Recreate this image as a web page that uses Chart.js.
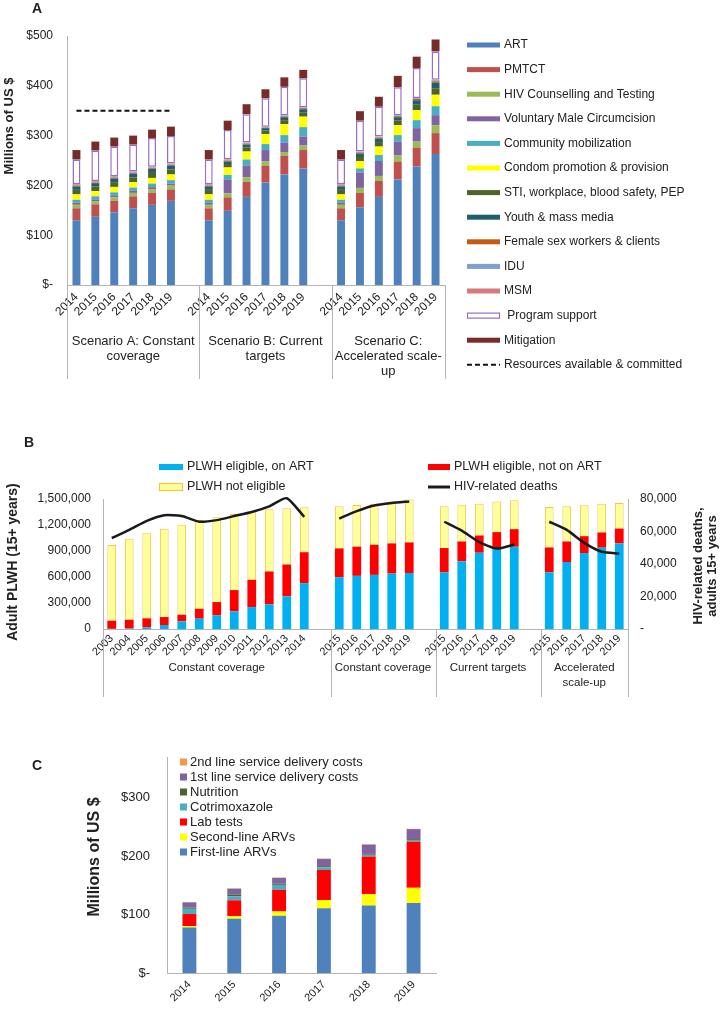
<!DOCTYPE html>
<html>
<head>
<meta charset="utf-8">
<script src="https://cdn.jsdelivr.net/npm/chart.js@4.4.1/dist/chart.umd.min.js"></script>
<style>
  html, body { margin: 0; padding: 0; background: #fff; }
  #page { position: relative; width: 722px; height: 1009px; overflow: hidden; }
  canvas { position: absolute; left: 0; }
</style>
</head>
<body>
<div id="page">
  <canvas id="chartA" width="722" height="395" style="top:0"></canvas>
  <canvas id="chartB" width="722" height="300" style="top:400px"></canvas>
  <canvas id="chartC" width="722" height="309" style="top:700px"></canvas>
</div>
<script>
const FONT = "'Liberation Sans', Arial, sans-serif";
const AXIS = '#b3b3b3';
Chart.defaults.font.family = FONT;
Chart.defaults.color = '#222';

// ---- panel A: resource needs by scenario (millions US$) ----
const yearsA = ['2014', '2015', '2016', '2017', '2018', '2019'];
const labelsA = [...yearsA, '', ...yearsA, '', ...yearsA];
const scenariosA = [['Scenario A: Constant', 'coverage'], ['Scenario B: Current', 'targets'], ['Scenario C:', 'Accelerated scale-', 'up']];

const art =         [130, 137, 146, 154, 161, 169, null, 130, 149, 177, 206, 222, 234, null, 130, 156, 177, 212, 238, 263];
const pmtct =       [24, 25, 23, 24, 24, 23, null, 24, 27, 30, 33, 37, 37, null, 24, 29, 32, 36, 38, 42];
const hct =         [7, 6.5, 7, 7, 7.5, 7.5, null, 7, 8, 9, 9, 8, 9, null, 7, 10, 10, 12, 12, 16];
const vmmc =        [4, 3.5, 4, 4, 4, 4, null, 4, 27, 24, 23, 19, 18, null, 4, 31, 30, 28, 27, 20];
const community =   [6, 6, 6, 6.5, 7, 7, null, 6, 10, 12, 12, 15, 19, null, 6, 8, 12, 13, 16, 18];
const condoms =     [11, 10.5, 11, 11, 11.5, 11.5, null, 11, 15, 16, 20, 22, 21, null, 11, 15, 17, 20, 20, 23];
const sti =         [9, 9, 9.5, 9.5, 10, 10, null, 9, 7, 8, 7, 8, 8, null, 9, 8, 9, 9, 11, 13];
const youth =       [7, 7, 7.5, 7.5, 8, 7.5, null, 7, 5, 6, 5, 6, 7, null, 7, 7, 7, 7, 9, 11];
const fsw =         [1.5, 1.5, 1.5, 1.5, 1.5, 1.5, null, 1.5, 1.5, 1.5, 1, 1.5, 2, null, 1.5, 2, 2, 2, 2.5, 3];
const idu =         [1.5, 1.5, 1.5, 1.5, 1.5, 1.5, null, 1.5, 1.5, 1.5, 1, 1.5, 1, null, 1.5, 1.5, 1.5, 1.5, 1.5, 2];
const msm =         [1.5, 1.5, 1.5, 1.5, 1.5, 1.5, null, 1.5, 1, 1, 1, 1, 1, null, 1.5, 0.5, 0.5, 0.5, 0.5, 1];
const progSupport = [49.5, 61, 59.5, 54, 57.5, 55, null, 49.5, 59, 57, 57, 57, 58, null, 49.5, 62, 60, 56, 60, 57];
const mitigation =  [19, 18, 18, 18, 17, 19, null, 19, 19, 20, 18, 19, 17, null, 19, 19, 20, 23, 23, 24];
const resources =   [350, 350, 350, 350, 350, 350, null, null, null, null, null, null, null, null, null, null, null, null, null, null];

// ---- panel B: adults living with HIV (thousands) and deaths (thousands) ----
const yearsHist = ['2003', '2004', '2005', '2006', '2007', '2008', '2009', '2010', '2011', '2012', '2013', '2014'];
const yearsProj = ['2015', '2016', '2017', '2018', '2019'];
const labelsB = [...yearsHist, '', ...yearsProj, '', ...yearsProj, '', ...yearsProj];
const groupsB = [['Constant coverage'], ['Constant coverage'], ['Current targets'], ['Accelerated', 'scale-up']];

const onArtK =       [2, 5, 20, 46, 88, 119, 157, 203, 253, 284, 376, 529, null, 598, 613, 624, 640, 646, null, 654, 781, 880, 930, 949, null, 654, 773, 876, 938, 987];
const notOnArtK =    [94, 102, 103, 92, 77, 115, 154, 246, 315, 380, 368, 357, null, 332, 337, 348, 348, 353, null, 280, 229, 199, 188, 203, null, 287, 237, 195, 176, 172];
const notEligibleK = [874, 933, 982, 1020, 1039, 1024, 978, 878, 790, 717, 648, 518, null, 485, 482, 474, 482, 494, null, 481, 425, 367, 352, 333, null, 468, 406, 357, 332, 295];
const deathsK =      [56, 61, 66.5, 70, 69.5, 66, 67, 69.5, 72, 75.5, 80.5, 69, null, 68, 72.5, 76, 77.5, 78.5, null, 66, 60.5, 53.5, 49.5, 52, null, 66, 61, 53, 47.5, 46.5];

// ---- panel C: ART cost components (millions US$) ----
const yearsC = ['2014', '2015', '2016', '2017', '2018', '2019'];
const firstLineArv =  [78, 93, 98, 111, 115.5, 120];
const secondLineArv = [2.5, 4.5, 7.5, 14, 19.5, 26];
const labTests =      [20.5, 27, 37, 51.5, 64.5, 79];
const cotrimoxazole = [9, 7, 8.5, 4.5, 3, 3];
const nutrition =     [2, 3, 2, 2, 1.5, 1.5];
const firstLineSvc =  [9, 10, 10, 12.5, 16, 17];
const secondLineSvc = [0.5, 0.5, 0.5, 0.5, 0.5, 0.5];

const thousands = arr => arr.map(v => v == null ? null : v * 1000);
const commas = v => String(v).replace(/\B(?=(\d{3})+(?!\d))/g, ',');

function drawText(ctx, t) {
  ctx.save();
  ctx.translate(t.x, t.y);
  if (t.rot) ctx.rotate(t.rot * Math.PI / 180);
  ctx.font = t.font;
  ctx.fillStyle = t.color || '#222';
  ctx.textAlign = t.align || 'center';
  ctx.textBaseline = 'middle';
  const lines = [].concat(t.text);
  const lh = t.lh || 14;
  lines.forEach((s, i) => ctx.fillText(s, 0, (i - (lines.length - 1) / 2) * lh));
  ctx.restore();
}

function drawGroups(chart, g) {
  const ctx = chart.ctx;
  const x = chart.scales.x;
  const slot = x.getPixelForValue(1) - x.getPixelForValue(0);
  const edge = i => x.getPixelForValue(0) - slot / 2 + i * slot;
  ctx.save();
  ctx.strokeStyle = AXIS;
  ctx.lineWidth = 1;
  g.bounds.forEach(b => {
    const px = Math.round(edge(b)) + 0.5;
    ctx.beginPath();
    ctx.moveTo(px, chart.chartArea.bottom);
    ctx.lineTo(px, g.bottom);
    ctx.stroke();
  });
  ctx.font = g.font;
  ctx.fillStyle = '#222';
  ctx.textAlign = 'center';
  ctx.textBaseline = 'middle';
  g.labels.forEach((lines, i) => {
    const cx = (edge(g.bounds[i]) + edge(g.bounds[i + 1])) / 2;
    lines.forEach((s, j) => ctx.fillText(s, cx, g.top + j * g.lh));
  });
  ctx.restore();
}

function drawLegend(chart, L) {
  const ctx = chart.ctx;
  ctx.save();
  ctx.font = L.font;
  ctx.textBaseline = 'middle';
  ctx.textAlign = 'left';
  L.items.forEach(it => {
    const ds = chart.data.datasets[it.ds];
    const w = it.w || L.boxW;
    const h = it.h || L.boxH;
    if (ds.type === 'line') {
      ctx.save();
      ctx.strokeStyle = ds.borderColor;
      ctx.lineWidth = L.lineW || ds.borderWidth;
      ctx.setLineDash(ds.borderDash || []);
      ctx.beginPath();
      ctx.moveTo(it.x, it.y);
      ctx.lineTo(it.x + w, it.y);
      ctx.stroke();
      ctx.restore();
    } else {
      ctx.fillStyle = ds.backgroundColor;
      ctx.fillRect(it.x, it.y - h / 2, w, h);
      if (ds.legendBorder) {
        ctx.strokeStyle = ds.borderColor;
        ctx.lineWidth = 1.2;
        ctx.strokeRect(it.x + 0.5, it.y - h / 2 + 0.5, w - 1, h - 1);
      }
    }
    ctx.fillStyle = '#222';
    ctx.fillText((it.prefix || '') + ds.label, it.x + w + (L.gap || 4), it.y);
  });
  ctx.restore();
}

const decor = {
  id: 'decor',
  afterDraw(chart, args, opts) {
    if (opts.groups) drawGroups(chart, opts.groups);
    if (opts.legend) drawLegend(chart, opts.legend);
    (opts.texts || []).forEach(t => drawText(chart.ctx, t));
  }
};
Chart.register(decor);

const noGrid = { display: false, drawTicks: false };

// ================= A =================
function barA(label, data, color, extra) {
  return Object.assign({
    type: 'bar', label, data, backgroundColor: color, borderWidth: 0,
    stack: 's', order: 1, categoryPercentage: 1, barPercentage: 0.42
  }, extra || {});
}
const datasetsA = [
  barA('ART', art, '#4f81bd'),
  barA('PMTCT', pmtct, '#c0504d'),
  barA('HIV Counselling and Testing', hct, '#9bbb59'),
  barA('Voluntary Male Circumcision', vmmc, '#8064a2'),
  barA('Community mobilization', community, '#4bacc6'),
  barA('Condom promotion & provision', condoms, '#ffff00'),
  barA('STI, workplace, blood safety, PEP', sti, '#4f6228'),
  barA('Youth & mass media', youth, '#215f6e'),
  barA('Female sex workers & clients', fsw, '#c55a11'),
  barA('IDU', idu, '#7f9fd0'),
  barA('MSM', msm, '#d77a7a'),
  barA('Program support', progSupport, '#ffffff', { borderColor: '#9a6cc8', borderWidth: 1.5, borderSkipped: false, legendBorder: true }),
  barA('Mitigation', mitigation, '#772c2a'),
  { type: 'line', label: 'Resources available & committed', data: resources, stack: 'res', order: 0,
    borderColor: '#111', borderWidth: 2, borderDash: [5, 3], pointRadius: 0, fill: false }
];

new Chart(document.getElementById('chartA'), {
  data: { labels: labelsA, datasets: datasetsA },
  options: {
    responsive: false, animation: false,
    layout: { padding: { top: 36, right: 277, left: 0, bottom: 0 } },
    plugins: {
      legend: { display: false }, tooltip: { enabled: false },
      decor: {
        texts: [
          { text: 'A', x: 37, y: 9, font: 'bold 14px ' + FONT },
          { text: 'Millions of US $', x: 9, y: 126, rot: -90, font: 'bold 13px ' + FONT }
        ],
        groups: { bounds: [0, 7, 14, 20], labels: scenariosA, top: 341, lh: 15, bottom: 379, font: '13px ' + FONT },
        legend: {
          font: '12px ' + FONT, boxW: 33, boxH: 5, gap: 4, lineW: 2,
          items: datasetsA.map((d, i) => ({ ds: i, x: 467, y: 45 + i * 24.6, h: i === 11 ? 6 : 5, prefix: i === 11 ? ' ' : '' }))
        }
      }
    },
    scales: {
      x: {
        stacked: true, grid: noGrid, border: { color: AXIS },
        ticks: { font: { size: 12 }, minRotation: 45, maxRotation: 45, autoSkip: false, padding: 5 },
        afterFit: s => { s.height = 110; }
      },
      y: {
        stacked: true, min: 0, max: 500, grid: noGrid, border: { color: AXIS },
        ticks: { stepSize: 100, padding: 14, font: { size: 12 }, callback: v => v === 0 ? '$-' : '$' + v },
        afterFit: s => { s.width = 67; }
      }
    }
  }
});

// ================= B =================
function barB(label, data, color, extra) {
  return Object.assign({
    type: 'bar', label, data: thousands(data), backgroundColor: color, borderWidth: 0,
    stack: 's', yAxisID: 'y', order: 1, categoryPercentage: 1, barPercentage: 0.5
  }, extra || {});
}
const datasetsB = [
  barB('PLWH eligible, on ART', onArtK, '#00b0f0'),
  barB('PLWH eligible, not on ART', notOnArtK, '#ff0000'),
  barB('PLWH not eligible', notEligibleK, '#ffff99', {
    borderColor: '#f2c649', borderWidth: { top: 1, left: 1, right: 1, bottom: 0 }, borderSkipped: false, legendBorder: true
  }),
  { type: 'line', label: 'HIV-related deaths', data: thousands(deathsK), yAxisID: 'y1', order: 0,
    borderColor: '#1a1a1a', borderWidth: 2.5, tension: 0.2, pointRadius: 0, fill: false, clip: false }
];

new Chart(document.getElementById('chartB'), {
  data: { labels: labelsB, datasets: datasetsB },
  options: {
    responsive: false, animation: false,
    layout: { padding: { top: 99, right: 0, left: 0, bottom: 0 } },
    plugins: {
      legend: { display: false }, tooltip: { enabled: false },
      decor: {
        texts: [
          { text: 'B', x: 29, y: 43, font: 'bold 14px ' + FONT },
          { text: 'Adult PLWH (15+ years)', x: 13, y: 162, rot: -90, font: 'bold 14px ' + FONT },
          { text: ['HIV-related deaths,', 'adults 15+ years'], x: 705, y: 166, rot: -90, lh: 14, font: 'bold 13px ' + FONT }
        ],
        groups: { bounds: [0, 13, 19, 25, 30], labels: groupsB, top: 268, lh: 15, bottom: 297, font: '11.5px ' + FONT },
        legend: {
          font: '12.5px ' + FONT, boxW: 24, boxH: 6, gap: 4, lineW: 3,
          items: [
            { ds: 0, x: 159, y: 67 },
            { ds: 2, x: 159, y: 87, h: 8 },
            { ds: 1, x: 428, y: 67, w: 22 },
            { ds: 3, x: 428, y: 87, w: 22 }
          ]
        }
      }
    },
    scales: {
      x: {
        stacked: true, grid: noGrid, border: { color: AXIS },
        ticks: { font: { size: 11 }, minRotation: 45, maxRotation: 45, autoSkip: false, padding: 3 },
        afterFit: s => { s.height = 71; }
      },
      y: {
        stacked: true, min: 0, max: 1500000, grid: noGrid, border: { color: AXIS },
        ticks: { stepSize: 300000, padding: 12, font: { size: 12 }, callback: v => commas(v) },
        afterFit: s => { s.width = 103; }
      },
      y1: {
        position: 'right', min: 0, max: 80000, grid: noGrid, border: { color: AXIS },
        ticks: { stepSize: 20000, padding: 12, font: { size: 12 }, callback: v => v === 0 ? '-' : commas(v) },
        afterFit: s => { s.width = 94; }
      }
    }
  }
});

// ================= C =================
function barC(label, data, color) {
  return { type: 'bar', label, data, backgroundColor: color, borderWidth: 0, stack: 's',
    categoryPercentage: 1, barPercentage: 0.31 };
}
const datasetsC = [
  barC('First-line ARVs', firstLineArv, '#4f81bd'),
  barC('Second-line ARVs', secondLineArv, '#ffff00'),
  barC('Lab tests', labTests, '#ff0000'),
  barC('Cotrimoxazole', cotrimoxazole, '#4bacc6'),
  barC('Nutrition', nutrition, '#4f6228'),
  barC('1st line service delivery costs', firstLineSvc, '#8064a2'),
  barC('2nd line service delivery costs', secondLineSvc, '#f79646')
];

new Chart(document.getElementById('chartC'), {
  data: { labels: yearsC, datasets: datasetsC },
  options: {
    responsive: false, animation: false,
    layout: { padding: { top: 57, right: 286, left: 0, bottom: 0 } },
    plugins: {
      legend: { display: false }, tooltip: { enabled: false },
      decor: {
        texts: [
          { text: 'C', x: 37, y: 66, font: 'bold 14px ' + FONT },
          { text: 'Millions of US $', x: 95, y: 157, rot: -90, font: 'bold 16px ' + FONT }
        ],
        legend: {
          font: '13px ' + FONT, boxW: 7, boxH: 7, gap: 3,
          items: [6, 5, 4, 3, 2, 1, 0].map((d, i) => ({ ds: d, x: 180, y: 62 + i * 15 }))
        }
      }
    },
    scales: {
      x: {
        stacked: true, grid: noGrid, border: { color: AXIS },
        ticks: { font: { size: 11 }, minRotation: 45, maxRotation: 45, autoSkip: false, padding: 5 },
        afterFit: s => { s.height = 36; }
      },
      y: {
        stacked: true, min: 0, max: 370, grid: noGrid, border: { color: AXIS },
        ticks: { stepSize: 100, padding: 17, font: { size: 13 }, callback: v => v % 100 ? '' : (v === 0 ? '$-' : '$' + v) },
        afterFit: s => { s.width = 167; }
      }
    }
  }
});
</script>
</body>
</html>
